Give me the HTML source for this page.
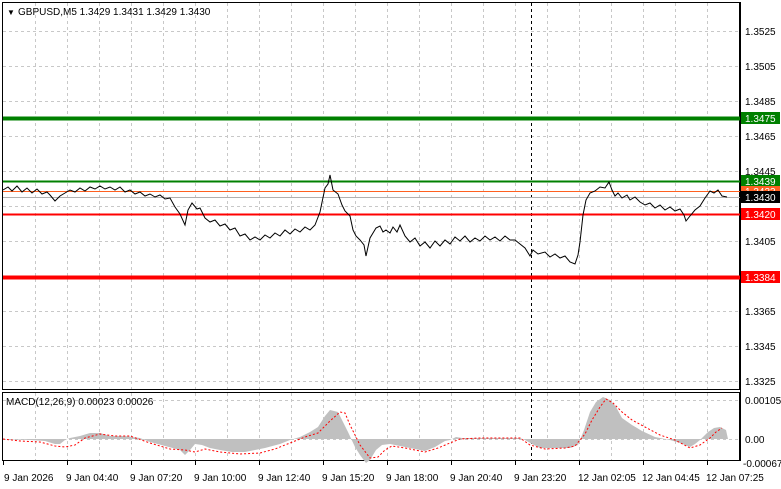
<!DOCTYPE html>
<html><head><meta charset="utf-8"><style>
body{margin:0;background:#fff;}
svg{display:block;font-family:"Liberation Sans","DejaVu Sans",sans-serif;}
</style></head><body>
<svg width="781" height="489" viewBox="0 0 781 489" xmlns="http://www.w3.org/2000/svg">
<rect width="781" height="489" fill="#fff"/>
<g stroke="#c8c8c8" stroke-dasharray="3,3" stroke-width="1">
<line x1="35.5" y1="3" x2="35.5" y2="460"/><line x1="67.5" y1="3" x2="67.5" y2="460"/><line x1="99.5" y1="3" x2="99.5" y2="460"/><line x1="131.5" y1="3" x2="131.5" y2="460"/><line x1="163.5" y1="3" x2="163.5" y2="460"/><line x1="195.5" y1="3" x2="195.5" y2="460"/><line x1="227.5" y1="3" x2="227.5" y2="460"/><line x1="259.5" y1="3" x2="259.5" y2="460"/><line x1="291.5" y1="3" x2="291.5" y2="460"/><line x1="323.5" y1="3" x2="323.5" y2="460"/><line x1="355.5" y1="3" x2="355.5" y2="460"/><line x1="387.5" y1="3" x2="387.5" y2="460"/><line x1="419.5" y1="3" x2="419.5" y2="460"/><line x1="451.5" y1="3" x2="451.5" y2="460"/><line x1="483.5" y1="3" x2="483.5" y2="460"/><line x1="515.5" y1="3" x2="515.5" y2="460"/><line x1="547.5" y1="3" x2="547.5" y2="460"/><line x1="579.5" y1="3" x2="579.5" y2="460"/><line x1="611.5" y1="3" x2="611.5" y2="460"/><line x1="643.5" y1="3" x2="643.5" y2="460"/><line x1="675.5" y1="3" x2="675.5" y2="460"/><line x1="707.5" y1="3" x2="707.5" y2="460"/>
<line x1="3" y1="31.5" x2="740" y2="31.5"/><line x1="3" y1="66.5" x2="740" y2="66.5"/><line x1="3" y1="101.5" x2="740" y2="101.5"/><line x1="3" y1="136.5" x2="740" y2="136.5"/><line x1="3" y1="171.5" x2="740" y2="171.5"/><line x1="3" y1="206.5" x2="740" y2="206.5"/><line x1="3" y1="241.5" x2="740" y2="241.5"/><line x1="3" y1="276.5" x2="740" y2="276.5"/><line x1="3" y1="311.5" x2="740" y2="311.5"/><line x1="3" y1="346.5" x2="740" y2="346.5"/><line x1="3" y1="381.5" x2="740" y2="381.5"/>
<line x1="3" y1="400.5" x2="740" y2="400.5"/><line x1="3" y1="439.5" x2="740" y2="439.5"/>
</g>
<rect x="2.5" y="2.5" width="737" height="387" fill="none" stroke="#000"/>
<rect x="2.5" y="392.5" width="737" height="68" fill="none" stroke="#000"/>
<line x1="531.5" y1="3" x2="531.5" y2="460" stroke="#000" stroke-dasharray="3,3"/>
<line x1="3" y1="118.5" x2="740" y2="118.5" stroke="#008000" stroke-width="4"/>
<line x1="3" y1="181.5" x2="740" y2="181.5" stroke="#008000" stroke-width="2"/>
<line x1="3" y1="191.5" x2="740" y2="191.5" stroke="#ff6020" stroke-width="1"/>
<line x1="3" y1="197.5" x2="740" y2="197.5" stroke="#b0b0b0" stroke-width="1"/>
<line x1="3" y1="214.5" x2="740" y2="214.5" stroke="#ff0000" stroke-width="2"/>
<line x1="3" y1="277.5" x2="740" y2="277.5" stroke="#ff0000" stroke-width="4"/>
<polyline fill="none" stroke="#000" stroke-width="1" points="3,190 8,187 12,191 17,186 22,192 27,188 32,193 37,189 42,194 47,192 50,195 55,201 60,196 65,193 70,190 75,192 80,188 85,191 90,187 95,189 100,186 105,189 110,187 115,190 120,187 125,192 130,190 135,194 140,192 145,196 150,194 155,197 160,195 165,199 170,198 175,207 180,214 185,225 188,210 192,203 197,209 200,208 205,218 210,222 215,220 220,226 225,224 230,230 235,228 240,236 245,234 250,240 255,237 260,240 265,235 270,238 275,233 280,236 285,230 290,234 295,229 300,232 305,227 310,230 315,225 320,212 325,188 328,184 330,175 333,190 338,194 342,205 345,211 350,216 353,230 356,236 360,240 364,245 366,256 370,238 373,233 376,228 380,226 383,232 386,230 390,233 393,227 397,232 400,225 405,236 410,242 415,238 420,246 425,242 430,248 435,241 440,246 445,240 450,244 455,237 460,241 465,236 470,242 475,238 480,241 485,236 490,240 495,237 500,241 505,236 510,240 515,240 520,244 525,248 530,256 533,250 538,254 545,252 550,257 555,254 560,258 565,256 570,262 575,264 578,255 580,242 583,215 586,200 590,193 595,191 600,187 605,188 609,182 612,190 615,196 618,193 622,198 627,195 630,200 635,197 640,202 645,205 650,203 655,208 660,205 665,210 670,207 675,211 680,209 684,215 686,221 690,216 695,210 700,206 705,198 710,191 714,193 718,190 722,196 727,197"/>
<polygon fill="#c0c0c0" points="3,439 3,439 30,440 45,441 55,444 60,444 65,440 70,438 80,436 90,433 100,433 110,436 125,436 140,438 150,442 165,446 180,450 185,455 190,450 195,444 202,445 210,448 220,450 232,452 245,452 255,450 265,448 280,444 290,440 300,437 310,432 318,427 325,416 330,410 338,412 343,422 348,432 355,447 360,455 366,463 370,460 376,450 382,445 390,444 400,446 410,448 425,451 435,447 445,441 450,440 456,437 462,438 520,438 525,440 532,444 540,448 555,448 570,448 578,445 584,430 590,412 596,402 603,397 610,400 616,407 622,418 632,425 642,431 655,437 670,440 680,443 690,447 695,444 700,440 708,432 714,428 720,427 726,430 728,439"/>
<polyline fill="none" stroke="#ff0000" stroke-width="1" stroke-dasharray="2,2" points="3,439 20,441 40,442 55,446 65,447 75,445 85,438 100,434 115,436 130,436 150,443 170,449 185,450 195,452 205,449 220,452 240,454 260,453 275,449 290,443 305,437 318,433 330,421 340,412 345,413 350,425 360,445 370,458 378,457 385,450 392,446 405,448 425,452 438,448 450,443 460,439 480,438 520,438 530,445 545,449 565,448 575,446 585,434 592,420 600,407 606,399 613,403 622,412 632,420 645,427 660,435 675,440 690,448 700,445 710,438 716,432 722,428"/>
<g font-size="10" fill="#000">
<text x="7" y="15" font-size="8">▼</text>
<text x="18" y="15">GBPUSD,M5  1.3429 1.3431 1.3429 1.3430</text>
<text x="6" y="405">MACD(12,26,9) 0.00023 0.00026</text>
</g>
<g font-size="10" fill="#000">
<text x="745" y="35">1.3525</text><text x="745" y="70">1.3505</text><text x="745" y="105">1.3485</text><text x="745" y="140">1.3465</text><text x="745" y="175">1.3445</text><text x="745" y="245">1.3405</text><text x="745" y="315">1.3365</text><text x="745" y="350">1.3345</text><text x="745" y="385">1.3325</text>
<text x="745" y="404">0.00105</text><text x="745" y="443">0.00</text><text x="743" y="467">-0.00067</text>
</g>
<g font-size="10" fill="#fff">
<rect x="740" y="112" width="40" height="12" fill="#008000"/><text x="745" y="122">1.3475</text>
<rect x="740" y="175" width="40" height="12" fill="#008000"/><text x="745" y="185">1.3439</text>
<rect x="740" y="186" width="40" height="10" fill="#ff6020"/><text x="745" y="195">1.3433</text>
<rect x="740" y="191" width="40" height="12" fill="#000"/><text x="745" y="201">1.3430</text>
<rect x="740" y="208" width="40" height="12" fill="#ff0000"/><text x="745" y="218">1.3420</text>
<rect x="740" y="271" width="40" height="12" fill="#ff0000"/><text x="745" y="281">1.3384</text>
</g>
<g stroke="#000"><line x1="740.5" y1="2" x2="740.5" y2="461"/>
<line x1="3.5" y1="461" x2="3.5" y2="465"/><line x1="67.5" y1="461" x2="67.5" y2="465"/><line x1="131.5" y1="461" x2="131.5" y2="465"/><line x1="195.5" y1="461" x2="195.5" y2="465"/><line x1="259.5" y1="461" x2="259.5" y2="465"/><line x1="323.5" y1="461" x2="323.5" y2="465"/><line x1="387.5" y1="461" x2="387.5" y2="465"/><line x1="451.5" y1="461" x2="451.5" y2="465"/><line x1="515.5" y1="461" x2="515.5" y2="465"/><line x1="579.5" y1="461" x2="579.5" y2="465"/><line x1="643.5" y1="461" x2="643.5" y2="465"/><line x1="707.5" y1="461" x2="707.5" y2="465"/>
</g>
<g font-size="10" fill="#000">
<text x="4" y="481">9 Jan 2026</text><text x="66" y="481">9 Jan 04:40</text><text x="130" y="481">9 Jan 07:20</text><text x="194" y="481">9 Jan 10:00</text><text x="258" y="481">9 Jan 12:40</text><text x="322" y="481">9 Jan 15:20</text><text x="386" y="481">9 Jan 18:00</text><text x="450" y="481">9 Jan 20:40</text><text x="514" y="481">9 Jan 23:20</text><text x="578" y="481">12 Jan 02:05</text><text x="642" y="481">12 Jan 04:45</text><text x="706" y="481">12 Jan 07:25</text>
</g>
</svg>
</body></html>
